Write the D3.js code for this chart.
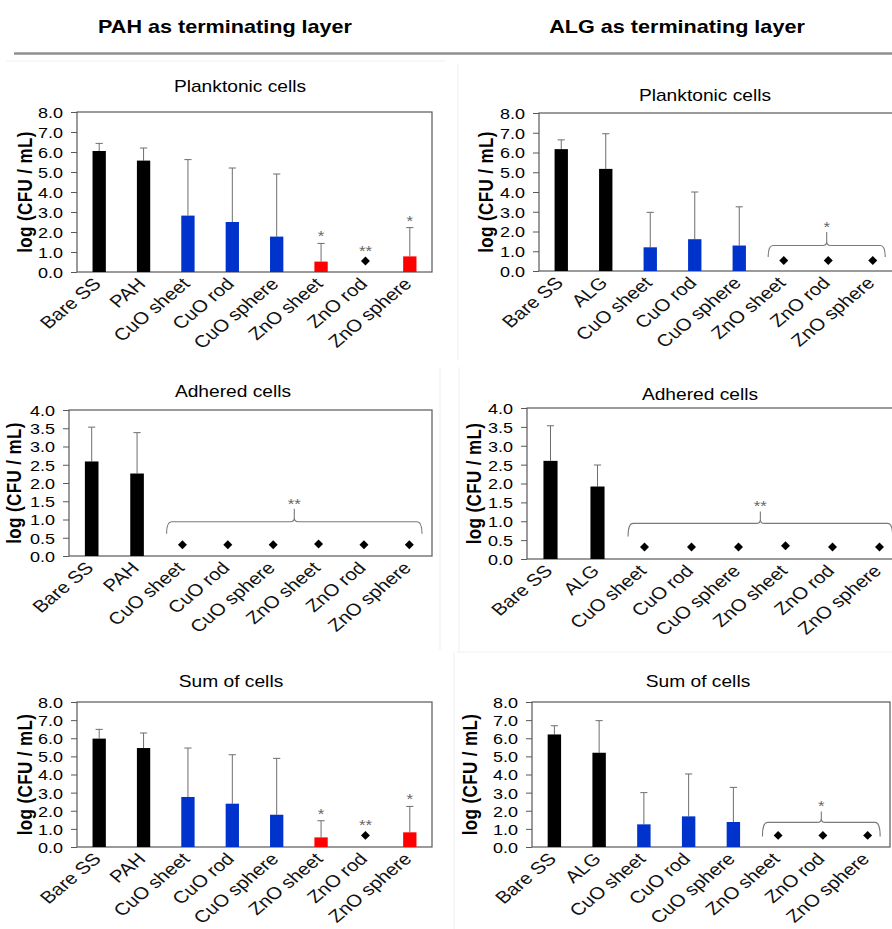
<!DOCTYPE html>
<html>
<head>
<meta charset="utf-8">
<script src="https://cdn.jsdelivr.net/npm/d3@7/dist/d3.min.js"></script>
<style>
  html, body { margin: 0; padding: 0; background: #fff; }
  svg { display: block; font-family: Arial, "Liberation Sans", sans-serif; }
</style>
</head>
<body>
<svg id="fig" width="892" height="929"></svg>
<script>
// ---- categories ----
const catsPAH = ["Bare SS", "PAH", "CuO sheet", "CuO rod", "CuO sphere", "ZnO sheet", "ZnO rod", "ZnO sphere"];
const catsALG = ["Bare SS", "ALG", "CuO sheet", "CuO rod", "CuO sphere", "ZnO sheet", "ZnO rod", "ZnO sphere"];
const groups  = ["control", "control", "CuO", "CuO", "CuO", "ZnO", "ZnO", "ZnO"];

// ---- tick labels ----
const ticks8 = [0, 1, 2, 3, 4, 5, 6, 7, 8];
const ticks4 = [0, 0.5, 1, 1.5, 2, 2.5, 3, 3.5, 4];

// ---- PAH terminating layer ----
const pahPlankMean   = [6.05, 5.57, 2.82, 2.50, 1.77, 0.52, null, 0.78];
const pahPlankSD     = [0.38, 0.63, 2.80, 2.70, 3.13, 0.91, null, 1.44];
const pahPlankMarker = [null, null, null, null, null, null, 0.55, null];
const pahPlankSig    = ["", "", "", "", "", "*", "**", "*"];

const pahAdhMean   = [2.59, 2.26, null, null, null, null, null, null];
const pahAdhSD     = [0.94, 1.12, null, null, null, null, null, null];
const pahAdhMarker = [null, null, 0.31, 0.31, 0.31, 0.33, 0.31, 0.31];

const pahSumMean   = [5.98, 5.46, 2.76, 2.39, 1.78, 0.53, null, 0.81];
const pahSumSD     = [0.51, 0.83, 2.70, 2.70, 3.11, 0.92, null, 1.43];
const pahSumMarker = [null, null, null, null, null, null, 0.64, null];
const pahSumSig    = ["", "", "", "", "", "*", "**", "*"];

// ---- ALG terminating layer ----
const algPlankMean   = [6.17, 5.17, 1.20, 1.61, 1.29, null, null, null];
const algPlankSD     = [0.47, 1.78, 1.77, 2.39, 1.96, null, null, null];
const algPlankMarker = [null, null, null, null, null, 0.53, 0.53, 0.53];

const algAdhMean   = [2.60, 1.92, null, null, null, null, null, null];
const algAdhSD     = [0.93, 0.57, null, null, null, null, null, null];
const algAdhMarker = [null, null, 0.32, 0.32, 0.32, 0.35, 0.32, 0.32];

const algSumMean   = [6.21, 5.20, 1.25, 1.69, 1.38, null, null, null];
const algSumSD     = [0.48, 1.77, 1.75, 2.34, 1.91, null, null, null];
const algSumMarker = [null, null, null, null, null, 0.64, 0.64, 0.64];

const noSig = ["", "", "", "", "", "", "", ""];

const colors = { control: "#000000", CuO: "#0033cc", ZnO: "#ff0000" };
const SX = 1.2; // horizontal text stretch

const svg = d3.select("#fig");

// faint frames around each chart block
const faint = [
  [6, 61, 445, 61], [458, 64, 458, 360], [440, 367, 440, 650],
  [459, 367, 459, 652], [457, 652, 892, 652], [454, 652, 454, 929]
];
svg.append("g").selectAll("line").data(faint).join("line")
  .attr("x1", d => d[0]).attr("y1", d => d[1]).attr("x2", d => d[2]).attr("y2", d => d[3])
  .attr("stroke", "#efefef").attr("stroke-width", 1);

// column headers and rule
function stretchedText(g, x, y, txt, size, weight, anchor, rot) {
  return g.append("text")
    .attr("transform", `translate(${x},${y}) scale(${SX},1)` + (rot ? ` rotate(${rot})` : ""))
    .attr("text-anchor", anchor || "middle")
    .attr("font-size", size)
    .attr("font-weight", weight || "normal")
    .attr("fill", "#000")
    .text(txt);
}
stretchedText(svg, 225, 33, "PAH as terminating layer", 18, "bold");
stretchedText(svg, 677, 33, "ALG as terminating layer", 18, "bold");
svg.append("line").attr("x1", 14).attr("x2", 892).attr("y1", 53.5).attr("y2", 53.5)
  .attr("stroke", "#8f8f8f").attr("stroke-width", 2.5);

const panels = [
  { title: "Planktonic cells", cats: catsPAH, mean: pahPlankMean, sd: pahPlankSD, marker: pahPlankMarker, sig: pahPlankSig,
    ticks: ticks8, ymax: 8, left: 77, top: 112, bottom: 272, width: 355, titleX: 240, titleY: 92, yTitleX: 25 },
  { title: "Planktonic cells", cats: catsALG, mean: algPlankMean, sd: algPlankSD, marker: algPlankMarker, sig: noSig,
    brace: { from: 5, to: 7, label: "*", lift: 15, drop: 11.5, tip: 13.5 },
    ticks: ticks8, ymax: 8, left: 539, top: 113, bottom: 271, width: 356, titleX: 705, titleY: 101, yTitleX: 486 },
  { title: "Adhered cells", cats: catsPAH, mean: pahAdhMean, sd: pahAdhSD, marker: pahAdhMarker, sig: noSig,
    brace: { from: 2, to: 7, label: "**", lift: 23, drop: 12, tip: 13 },
    ticks: ticks4, ymax: 4, left: 69, top: 410, bottom: 556, width: 363, titleX: 233, titleY: 397, yTitleX: 13.5 },
  { title: "Adhered cells", cats: catsALG, mean: algAdhMean, sd: algAdhSD, marker: algAdhMarker, sig: noSig,
    brace: { from: 2, to: 7, label: "**", lift: 23.5, drop: 13, tip: 12 },
    ticks: ticks4, ymax: 4, left: 527, top: 408, bottom: 559, width: 376, titleX: 700, titleY: 400, yTitleX: 474 },
  { title: "Sum of cells", cats: catsPAH, mean: pahSumMean, sd: pahSumSD, marker: pahSumMarker, sig: pahSumSig,
    ticks: ticks8, ymax: 8, left: 77, top: 702, bottom: 847, width: 355, titleX: 231, titleY: 687, yTitleX: 25 },
  { title: "Sum of cells", cats: catsALG, mean: algSumMean, sd: algSumSD, marker: algSumMarker, sig: noSig,
    brace: { from: 5, to: 7, label: "*", lift: 13, drop: 14, tip: 11 },
    ticks: ticks8, ymax: 8, left: 532, top: 702, bottom: 847, width: 358, titleX: 698, titleY: 687, yTitleX: 470 }
];

const axisColor = "#595959";
const errColor = "#6e6e6e";
const sigColor = "#666";

panels.forEach(p => {
  const g = svg.append("g");
  const x = d3.scaleBand().domain(p.cats).range([p.left, p.left + p.width]);
  const y = d3.scaleLinear().domain([0, p.ymax]).range([p.bottom, p.top]);
  const bw = x.bandwidth();
  const cx = c => x(c) + bw / 2;
  const barW = bw * 0.3;

  // chart title
  stretchedText(g, p.titleX, p.titleY, p.title, 16, "normal");

  // y axis
  const ax = g.append("g").attr("transform", `translate(${p.left},0)`)
    .call(d3.axisLeft(y).tickValues(p.ticks).tickFormat(d3.format(".1f")).tickSize(6).tickPadding(0));
  ax.select(".domain").remove();
  ax.selectAll(".tick line").attr("stroke", axisColor);
  ax.selectAll(".tick text")
    .attr("x", null).attr("dy", "0.36em")
    .attr("transform", `translate(-14,0) scale(${SX},1)`)
    .attr("font-size", 15).attr("fill", "#000")
    .attr("font-family", "Arial, 'Liberation Sans', sans-serif");

  // plot frame
  g.append("rect").attr("x", p.left).attr("y", p.top)
    .attr("width", p.width).attr("height", p.bottom - p.top)
    .attr("fill", "none").attr("stroke", axisColor).attr("stroke-width", 1.2);

  // y axis title
  stretchedText(g, p.yTitleX, (p.top + p.bottom) / 2, "log (CFU / mL)", 17, "bold", "middle", -90)
    .attr("dy", "0.35em").attr("letter-spacing", 0.4);

  const rows = p.cats.map((c, i) => ({ c, i, m: p.mean[i], s: p.sd[i], k: p.marker[i], sig: p.sig[i], grp: groups[i] }));

  // error bars (upper only)
  const eb = rows.filter(d => d.m != null && d.s != null);
  g.append("g").selectAll("path").data(eb).join("path")
    .attr("d", d => {
      const xc = cx(d.c), y0 = y(d.m), y1 = y(d.m + d.s);
      return `M${xc},${y0}V${y1}M${xc - 3.6},${y1}H${xc + 3.6}`;
    })
    .attr("stroke", errColor).attr("stroke-width", 1).attr("fill", "none");

  // bars
  g.append("g").selectAll("rect").data(rows.filter(d => d.m != null)).join("rect")
    .attr("x", d => cx(d.c) - barW / 2).attr("width", barW)
    .attr("y", d => y(d.m)).attr("height", d => y(0) - y(d.m))
    .attr("fill", d => colors[d.grp]);

  // diamond markers
  const diamond = d3.symbol().type(d3.symbolSquare).size(40);
  g.append("g").selectAll("path").data(rows.filter(d => d.k != null)).join("path")
    .attr("d", diamond)
    .attr("transform", d => `translate(${cx(d.c)},${y(d.k)}) rotate(45)`)
    .attr("fill", "#000");

  // significance marks above individual columns
  g.append("g").selectAll("text").data(rows.filter(d => d.sig)).join("text")
    .attr("transform", d => {
      const top = d.m != null ? y(d.m + d.s) - 10 : y(d.k) - 13;
      return `translate(${cx(d.c)},${top + 8}) scale(${SX},1)`;
    })
    .attr("text-anchor", "middle").attr("font-size", 14).attr("fill", sigColor)
    .text(d => d.sig);

  // x axis category labels
  g.append("g").selectAll("text").data(p.cats).join("text")
    .attr("transform", c => `translate(${cx(c) + 3},${p.bottom + 13}) scale(${SX},1) rotate(-45)`)
    .attr("text-anchor", "end").attr("font-size", 17).attr("fill", "#111")
    .text(c => c);

  // grouping brace
  if (p.brace) {
    const b = p.brace;
    const ky = d3.min(p.marker.filter(v => v != null));
    const yTop = y(ky) - b.lift;
    const yEnd = yTop + b.drop;
    const yTip = yTop - b.tip;
    const x1 = x(p.cats[b.from]) + bw * 0.15;
    const x2 = x(p.cats[b.to]) + bw * 0.78;
    const xm = (x1 + x2) / 2;
    const r = 5;
    const path = `M${x1},${yEnd}Q${x1},${yTop} ${x1 + r},${yTop}L${xm - 4},${yTop}Q${xm},${yTop} ${xm},${yTop - 4}L${xm},${yTip}` +
                 `M${xm},${yTop - 4}Q${xm},${yTop} ${xm + 4},${yTop}L${x2 - r},${yTop}Q${x2},${yTop} ${x2},${yEnd}`;
    g.append("path").attr("d", path).attr("fill", "none").attr("stroke", "#7a7a7a").attr("stroke-width", 1.1);
    g.append("text")
      .attr("transform", `translate(${xm},${yTip}) scale(${SX},1)`)
      .attr("text-anchor", "middle").attr("font-size", 14).attr("fill", sigColor)
      .text(b.label);
  }
});
</script>
</body>
</html>
